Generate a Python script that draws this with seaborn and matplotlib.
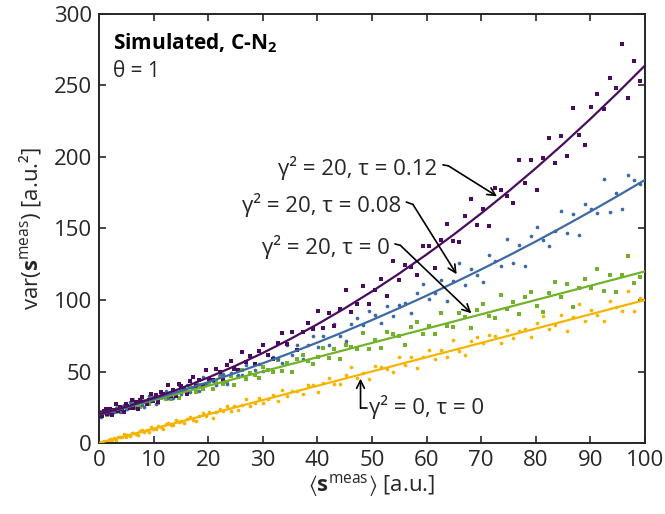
import matplotlib
matplotlib.use("Agg")
import matplotlib.pyplot as plt
import seaborn as sns
import pandas as pd

# ---- data ---------------------------------------------------------------
# mean signal <s_meas> of each simulated pixel set (shared by all series)
s_mean = [
    0.3, 0.6, 0.9, 1.2, 1.5, 1.8, 2.1, 2.4, 2.8, 3.1, 3.5, 3.8, 4.2, 4.5, 4.9, 5.2,
    5.6, 6.0, 6.3, 6.7, 7.1, 7.5, 7.9, 8.3, 8.7, 9.1, 9.5, 9.9, 10.4, 10.8, 11.3,
    11.7, 12.2, 12.6, 13.1, 13.6, 14.1, 14.6, 15.1, 15.6, 16.2, 16.7, 17.3, 17.8,
    18.4, 19.0, 19.6, 20.2, 20.8, 21.4, 22.1, 22.7, 23.4, 24.1, 24.8, 25.5, 26.2,
    27.0, 27.7, 28.5, 29.3,
    30.1, 31.0, 31.8, 32.7, 33.6, 34.5, 35.4, 36.3, 37.3, 38.2, 39.2, 40.2, 41.1,
    42.1, 43.1, 44.2, 45.2, 46.2, 47.3, 48.3, 49.4, 50.5, 51.6, 52.7, 53.8, 54.9,
    56.0, 57.1, 58.3, 59.4,
    60.5, 61.6, 62.7, 63.8, 64.9, 66.0, 67.1, 68.2, 69.3, 70.4, 71.5, 72.6, 73.7,
    74.8, 75.9, 77.0, 78.1, 79.2, 80.3, 81.4, 82.5, 83.6, 84.7, 85.8, 86.9, 88.0,
    89.1, 90.2, 91.3, 92.4, 93.5, 94.6, 95.7, 96.8, 97.9, 99.0,
]

# var(s_meas), gamma^2 = 20, tau = 0.12
var_g20_t012 = [
    20.9, 18.6, 22.3, 23.9, 20.5, 21.5, 24.0, 19.4, 23.4, 27.0, 22.1, 25.1, 23.7,
    21.9, 27.6, 25.8, 24.7, 30.4, 24.6, 28.4, 23.5, 30.0, 31.9, 28.6, 27.1, 30.3,
    34.6, 29.4, 33.7, 28.5, 35.6, 34.2, 33.0, 40.9, 32.9, 37.4, 33.1, 41.4, 40.1,
    38.8, 34.4, 43.4, 46.2, 40.2, 44.2, 40.3, 51.0, 44.8, 44.0, 51.8, 49.8, 44.1,
    54.2, 57.6, 51.4, 50.7, 63.8, 56.7, 60.8, 54.9, 64.6,
    68.2, 61.4, 58.6, 69.9, 77.1, 69.3, 77.7, 65.3, 77.8, 84.1, 79.8, 92.2, 80.2,
    90.8, 81.8, 93.9, 106.9, 91.8, 97.2, 109.5, 97.4, 107.2, 114.8, 102.7, 127.5,
    113.8, 124.5, 123.4, 117.8, 137.7,
    138.1, 122.1, 142.2, 153.3, 141.2, 140.5, 158.7, 170.5, 152.3, 163.4, 151.6,
    178.1, 176.8, 172.9, 168.1, 197.6, 181.6, 198.1, 176.6, 199.4, 213.0, 196.1,
    214.4, 200.7, 234.3, 215.7, 208.2, 235.1, 243.9, 233.4, 255.3, 248.5, 279.0,
    241.5, 267.2, 252.8,
]

# var(s_meas), gamma^2 = 20, tau = 0.08
var_g20_t008 = [
    18.0, 21.7, 22.8, 20.3, 21.9, 20.2, 24.6, 21.9, 21.6, 24.7, 23.9, 21.4, 25.5,
    26.8, 24.1, 23.7, 29.0, 25.9, 27.4, 24.8, 28.6, 30.0, 26.9, 25.5, 29.9, 32.6,
    29.1, 32.2, 27.0, 31.7, 34.1, 32.0, 36.6, 31.5, 35.5, 31.6, 36.0, 40.8, 34.5,
    36.2, 40.9, 35.6, 39.2, 41.8, 36.6, 46.1, 40.3, 44.1, 43.3, 40.5, 48.3, 48.0,
    41.2, 49.0, 53.2, 47.9, 47.3, 54.4, 60.8, 51.1, 55.4,
    50.3, 61.2, 60.3, 58.5, 56.2, 68.6, 61.6, 68.5, 59.0, 68.7, 74.5, 66.9, 74.8,
    68.5, 83.4, 75.0, 71.3, 83.4, 87.5, 82.3, 92.5, 89.2, 83.8, 95.8, 88.8, 96.2,
    98.1, 91.2, 104.8, 111.1,
    100.7, 104.8, 114.0, 99.6, 113.6, 126.1, 110.6, 121.6, 117.6, 112.9, 131.7,
    127.0, 124.0, 142.8, 125.6, 138.2, 123.8, 144.7, 151.1, 141.7, 137.7, 148.3,
    162.0, 147.1, 160.3, 145.8, 167.4, 163.8, 160.9, 184.7, 161.7, 175.0, 163.3,
    187.1, 184.1, 180.9,
]

# var(s_meas), gamma^2 = 20, tau = 0
var_g20_t0 = [
    21.6, 19.4, 20.9, 22.1, 19.8, 23.9, 21.3, 23.0, 22.7, 21.5, 24.8, 24.6, 21.7,
    25.0, 26.8, 24.4, 24.2, 27.2, 29.8, 25.6, 27.4, 25.1, 29.6, 29.2, 28.3, 27.1,
    32.2, 29.1, 32.0, 27.8, 31.8, 34.0, 30.7, 33.8, 31.0, 37.1, 33.4, 31.7, 36.6,
    38.0, 35.8, 39.6, 38.3, 35.8, 40.6, 37.6, 40.4, 41.0, 38.0, 43.4, 45.9, 41.4,
    42.9, 46.7, 40.5, 46.2, 51.3, 44.8, 49.2, 47.5, 45.4,
    53.3, 51.3, 49.9, 58.0, 50.5, 56.0, 49.5, 58.7, 61.6, 57.3, 55.4, 60.2, 66.3,
    59.4, 65.5, 58.7, 68.7, 66.9, 65.5, 76.7, 65.7, 72.0, 66.2, 77.8, 76.2, 74.5,
    68.2, 80.8, 84.6, 76.4,
    81.8, 76.3, 90.7, 82.0, 80.8, 91.1, 88.0, 80.1, 93.1, 97.2, 88.5, 87.1, 103.8,
    93.8, 98.5, 90.2, 101.8, 105.6, 96.0, 91.5, 104.7, 112.6, 101.9, 110.9, 94.8,
    108.6, 115.0, 108.4, 121.5, 106.3, 117.2, 105.3, 117.6, 130.7, 112.2, 116.4,
]

# var(s_meas), gamma^2 = 0, tau = 0
var_g0_t0 = [
    0.1, 1.0, 1.7, 1.0, 0.8, 1.8, 3.0, 1.9, 3.2, 2.1, 4.2, 3.9, 3.9, 6.1, 4.2, 5.5,
    4.6, 7.0, 6.8, 6.6, 5.5, 8.3, 9.2, 7.7, 9.0, 8.0, 11.2, 9.5, 9.5, 11.9, 11.5,
    9.9, 13.0, 14.1, 12.4, 12.4, 16.4, 14.4, 15.7, 14.0, 17.1, 18.2, 16.3, 15.5,
    18.9, 21.2, 18.9, 21.5, 17.8, 21.5, 23.6, 22.2, 26.0, 22.5, 25.8, 23.0, 26.7,
    30.8, 26.1, 27.8, 31.7,
    27.9, 31.0, 33.3, 29.5, 37.4, 33.1, 36.4, 36.1, 34.2, 40.6, 40.8, 35.6, 42.0,
    45.7, 41.6, 41.5, 47.5, 52.9, 45.2, 48.8, 44.8, 53.8, 53.3, 51.8, 50.0, 60.2,
    54.5, 60.2, 52.4, 60.4,
    65.0, 58.7, 65.0, 59.8, 71.7, 64.6, 61.5, 71.1, 74.0, 69.7, 75.2, 74.5, 69.9,
    79.1, 73.2, 78.6, 79.7, 73.9, 84.0, 88.5, 80.0, 82.7, 89.4, 78.0, 88.2, 97.4,
    85.0, 92.9, 89.5, 85.4, 99.2, 95.1, 92.3, 106.0, 92.5, 101.5,
]

# model curves var = gamma^2 + <s> + tau^2 <s>^2, tabulated every 5 a.u.
s_model = [0, 5, 10, 15, 20, 25, 30, 35, 40, 45, 50, 55, 60, 65, 70, 75, 80, 85, 90, 95, 100]
model_g20_t012 = [20.0, 25.36, 31.44, 38.24, 45.76, 54.0, 62.96, 72.64, 83.04, 94.16,
                  106.0, 118.56, 131.84, 145.84, 160.56, 176.0, 192.16, 209.04,
                  226.64, 244.96, 264.0]
model_g20_t008 = [20.0, 25.16, 30.64, 36.44, 42.56, 49.0, 55.76, 62.84, 70.24, 77.96,
                  86.0, 94.36, 103.04, 112.04, 121.36, 131.0, 140.96, 151.24,
                  161.84, 172.76, 184.0]
model_g20_t0 = [20, 25, 30, 35, 40, 45, 50, 55, 60, 65, 70, 75, 80, 85, 90, 95, 100,
                105, 110, 115, 120]
model_g0_t0 = [0, 5, 10, 15, 20, 25, 30, 35, 40, 45, 50, 55, 60, 65, 70, 75, 80, 85,
               90, 95, 100]

series = ["g0t0", "g20t0", "g20t008", "g20t012"]
series_labels = ["γ² = 0, τ = 0", "γ² = 20, τ = 0",
                 "γ² = 20, τ = 0.08", "γ² = 20, τ = 0.12"]
colors = {"g0t0": "#f6b400", "g20t0": "#72b12c", "g20t008": "#3d6aa2", "g20t012": "#4a0c5e"}
markers = {"g0t0": "o", "g20t0": "s", "g20t008": "o", "g20t012": "s"}
msize = {"g0t0": 7, "g20t0": 9, "g20t008": 7, "g20t012": 10}

points = pd.concat([
    pd.DataFrame({"s": s_mean, "var": v, "series": k})
    for k, v in zip(series, [var_g0_t0, var_g20_t0, var_g20_t008, var_g20_t012])
], ignore_index=True)
curves = pd.concat([
    pd.DataFrame({"s": s_model, "var": v, "series": k})
    for k, v in zip(series, [model_g0_t0, model_g20_t0, model_g20_t008, model_g20_t012])
], ignore_index=True)

# ---- style ----------------------------------------------------------------
sns.set_theme(style="ticks")
plt.rcParams["font.family"] = ["Open Sans", "DejaVu Sans"]
plt.rcParams["mathtext.fontset"] = "custom"
plt.rcParams["mathtext.rm"] = "Open Sans"
plt.rcParams["mathtext.it"] = "Open Sans:italic"
plt.rcParams["mathtext.bf"] = "Open Sans:bold"
plt.rcParams["mathtext.fallback"] = "stixsans"
ink = "#262626"

fig = plt.figure(figsize=(6.65, 5.14), dpi=100)
ax = fig.add_axes([99 / 665, 71 / 514, 546 / 665, 429 / 514])

for k in series:
    sub = points[points["series"] == k]
    sns.scatterplot(data=sub, x="s", y="var", ax=ax, color=colors[k],
                    marker=markers[k], s=msize[k], linewidth=0, legend=False,
                    zorder=2)
    sns.lineplot(data=curves[curves["series"] == k], x="s", y="var", ax=ax,
                 color=colors[k], linewidth=1.6, legend=False, zorder=3)

ax.set_xlim(0, 100)
ax.set_ylim(0, 300)
ax.set_xticks(range(0, 101, 10))
ax.set_yticks(range(0, 301, 50))
ax.tick_params(direction="in", top=True, right=True, length=5, width=1.2,
               labelsize=16, colors=ink, pad=5)
for sp in ax.spines.values():
    sp.set_visible(True)
    sp.set_linewidth(1.4)
    sp.set_color(ink)

ax.set_xlabel(r"$\langle\mathbf{s}^{\mathrm{meas}}\rangle$ [a.u.]", fontsize=16,
              color=ink, labelpad=1)
ax.set_ylabel(r"var($\mathbf{s}^{\mathrm{meas}}$) [a.u.²]", fontsize=16,
              color=ink, labelpad=8)

ax.text(0.026, 0.932, r"Simulated, C-N$_{\mathbf{2}}$", transform=ax.transAxes,
        fontsize=15, fontweight="bold", color="black", va="center", ha="left")
ax.text(0.026, 0.865, "θ = 1", transform=ax.transAxes, fontsize=15,
        color=ink, va="center", ha="left")

# ---- curve annotations -------------------------------------------------------
arrow = dict(arrowstyle="->", color="black", lw=1.2, shrinkA=0, shrinkB=0,
             mutation_scale=14)
callouts = [
    # label, text anchor, hook start, hook corner, arrow tip
    (series_labels[3], (61.9, 192.5), (63.0, 194.5), (64.0, 193.8), (72.9, 172.5)),
    (series_labels[2], (55.4, 166.5), (56.3, 168.5), (57.5, 166.8), (65.5, 118.0)),
    (series_labels[1], (53.2, 137.0), (54.2, 139.2), (55.2, 138.2), (68.2, 90.7)),
]
for label, txt, h0, h1, tip in callouts:
    ax.text(*txt, label, fontsize=16, color=ink, ha="right", va="center")
    ax.plot([h0[0], h1[0]], [h0[1], h1[1]], color="black", lw=1.2, zorder=4)
    ax.annotate("", xy=tip, xytext=h1, arrowprops=arrow, zorder=4)

ax.text(49.5, 25.5, series_labels[0], fontsize=16, color=ink, ha="left",
        va="center")
ax.plot([49.0, 47.9], [24.3, 24.3], color="black", lw=1.2, zorder=4)
ax.annotate("", xy=(47.9, 45.0), xytext=(47.9, 24.3), arrowprops=arrow, zorder=4)

fig.savefig("out.png", dpi=100)
